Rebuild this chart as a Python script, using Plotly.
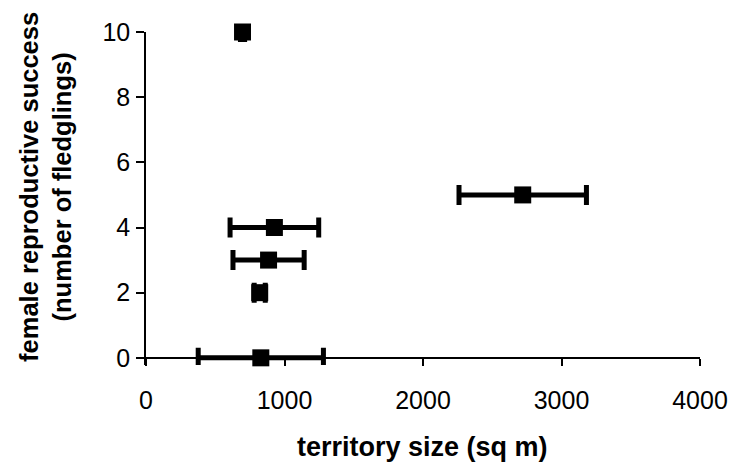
import plotly.graph_objects as go

# Data
territory_size = [829, 821, 885, 927, 2720, 697]
fledglings = [0, 2, 3, 4, 5, 10]
territory_err = [452, 40, 257, 320, 460, 15]

x_ticks = [0, 1000, 2000, 3000, 4000]
y_ticks = [0, 2, 4, 6, 8, 10]

x_title = "territory size (sq m)"
y_title = "female reproductive success<br>(number of fledglings)"

Y_MIN, Y_MAX = -0.22, 10

fig = go.Figure()
fig.add_trace(go.Scatter(
    x=territory_size,
    y=fledglings,
    mode="markers",
    marker=dict(symbol="square", size=17, color="black"),
    error_x=dict(type="data", array=territory_err, visible=True,
                 color="black", thickness=5, width=10),
    cliponaxis=False,
    showlegend=False,
))

W, H = 738, 470
L, R, T = 146, 38, 32
unit_px = (358 - 32) / 10.0
B = H - (358 + (-Y_MIN) * unit_px)

fig.update_layout(
    width=W, height=H,
    margin=dict(l=L, r=R, t=T, b=B, autoexpand=False),
    plot_bgcolor="white",
    paper_bgcolor="white",
    font=dict(family="Liberation Sans, Arial, sans-serif", color="black"),
    xaxis=dict(
        range=[0, 4000], tickvals=x_ticks, ticktext=[str(v) for v in x_ticks],
        showgrid=False, zeroline=False,
        anchor="free", position=(0 - Y_MIN) / (Y_MAX - Y_MIN),
        showline=True, linecolor="black", linewidth=2,
        ticks="outside", ticklen=7, tickwidth=1.5, tickcolor="black",
        tickfont=dict(size=25, family="Liberation Sans, Arial, sans-serif"),
        ticklabelstandoff=13,
        fixedrange=True,
    ),
    yaxis=dict(
        range=[Y_MIN, Y_MAX], tickvals=y_ticks, ticktext=[str(v) for v in y_ticks],
        showgrid=False, zeroline=False,
        showline=True, linecolor="black", linewidth=1.5,
        ticks="outside", ticklen=8, tickwidth=1.5, tickcolor="black",
        tickfont=dict(size=25, family="Liberation Sans, Arial, sans-serif"),
        ticklabelstandoff=1,
        fixedrange=True,
    ),
)

plot_w = W - L - R
plot_h = H - T - B

def py(pix):
    return (H - B - pix) / plot_h

fig.add_annotation(
    text=x_title, xref="paper", yref="paper",
    x=(422 - L) / plot_w, y=py(447),
    xanchor="center", yanchor="middle", showarrow=False,
    font=dict(size=27, family="Liberation Sans, Arial, sans-serif", weight="bold"),
)
fig.add_annotation(
    text=y_title, xref="paper", yref="paper",
    x=(46 - L) / plot_w, y=py(187),
    xanchor="center", yanchor="middle", showarrow=False, textangle=-90,
    font=dict(size=25.5, family="Liberation Sans, Arial, sans-serif", weight="bold"),
)

fig.write_html("out.html")
